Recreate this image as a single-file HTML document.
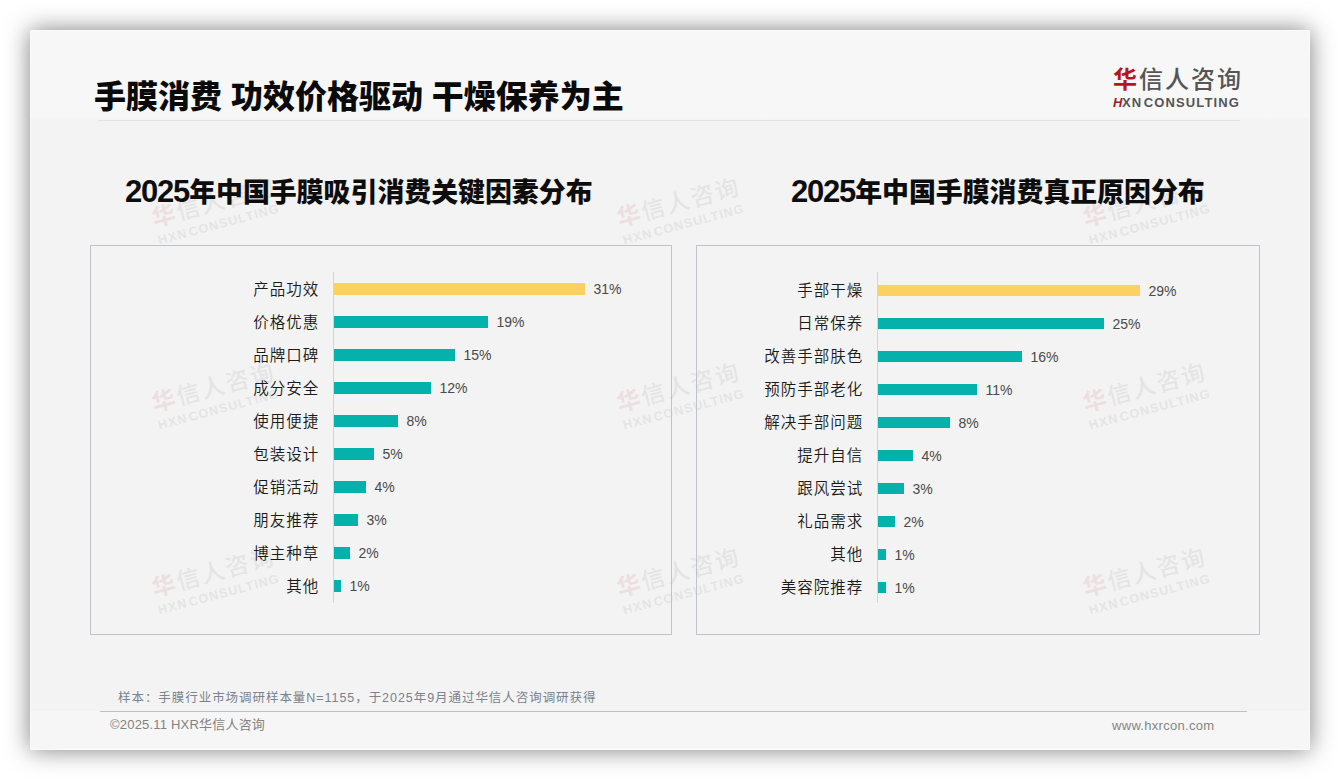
<!DOCTYPE html>
<html lang="zh-CN">
<head>
<meta charset="utf-8">
<title>手膜消费 功效价格驱动 干燥保养为主</title>
<style>
*{margin:0;padding:0;box-sizing:border-box;}
html,body{width:1340px;height:780px;background:#fff;overflow:hidden;}
body{position:relative;font-family:"Liberation Sans","Noto Sans CJK SC",sans-serif;}
.slide{position:absolute;left:30px;top:30px;width:1280px;height:720px;background:#f3f3f3;box-shadow:0 0 24px rgba(0,0,0,0.5);border-radius:2px;overflow:hidden;}
.hdr{position:absolute;left:0;top:0;width:1280px;height:90px;background:linear-gradient(#f7f7f7 0,#f7f7f7 83px,#f8f8f8 86px,#f3f3f3 90px);}
.ftr{position:absolute;left:0;top:681px;width:1280px;height:39px;background:#f6f6f6;}
.abs{position:absolute;white-space:nowrap;}
.edge{position:absolute;left:0;top:0;width:1280px;height:720px;border:1px solid rgba(255,255,255,0.55);border-radius:2px;}
.title{left:64px;top:46.5px;font-size:32px;font-weight:900;color:#0a0a0a;line-height:40px;}
.hline{left:68px;top:90px;width:1142px;height:1px;background:#e2e2e2;}
.ctitle{font-size:26.9px;font-weight:900;color:#0d0d0d;line-height:34px;}
.ctitle .d{font-size:31px;line-height:0;font-weight:bold;letter-spacing:-1.2px;}
.box{position:absolute;border:1px solid #bfc3c9;}
.lbl{position:absolute;font-size:15.5px;font-weight:350;color:#1a1a1a;line-height:20px;text-align:right;white-space:nowrap;letter-spacing:1.0px;margin-right:-0.3px;margin-top:1px;}
.bar{position:absolute;background:#05b1ab;}
.bar.y{background:#fdd062;}
.val{position:absolute;font-size:14px;color:#4a4a4a;letter-spacing:0px;line-height:18px;white-space:nowrap;}
.axis{position:absolute;width:1px;background:#d6d6d6;}
.wm{position:absolute;transform:rotate(-15deg) scale(0.975);transform-origin:0 0;opacity:0.085;}
.logo-cn{font-size:24px;line-height:28px;color:#555;letter-spacing:2px;font-weight:500;}
.logo-cn b{color:#b8141d;}
.logo-en{font-size:13px;line-height:14px;font-weight:bold;color:#555;letter-spacing:1.1px;word-spacing:-3px;margin-top:2px;}
.sample{left:88px;top:657px;font-size:12.5px;color:#7a828d;letter-spacing:0.95px;}
.fline{left:70px;top:681px;width:1147px;height:1px;background:#bac1c8;}
.copy{left:80px;top:684px;font-size:13px;color:#828282;letter-spacing:0.2px;}
.url{left:1082px;top:688px;font-size:13px;color:#858585;letter-spacing:0.3px;}
</style>
</head>
<body>
<div class="slide">
  <div class="hdr"></div>
  <div class="ftr"></div>
  <div class="wm" style="left:118.5px;top:176.0px;"><div class="logo-cn"><b>华</b>信人咨询</div><div class="logo-en">HXN CONSULTING</div></div>
  <div class="wm" style="left:584.0px;top:176.0px;"><div class="logo-cn"><b>华</b>信人咨询</div><div class="logo-en">HXN CONSULTING</div></div>
  <div class="wm" style="left:1049.5px;top:176.0px;"><div class="logo-cn"><b>华</b>信人咨询</div><div class="logo-en">HXN CONSULTING</div></div>
  <div class="wm" style="left:118.5px;top:361.0px;"><div class="logo-cn"><b>华</b>信人咨询</div><div class="logo-en">HXN CONSULTING</div></div>
  <div class="wm" style="left:584.0px;top:361.0px;"><div class="logo-cn"><b>华</b>信人咨询</div><div class="logo-en">HXN CONSULTING</div></div>
  <div class="wm" style="left:1049.5px;top:361.0px;"><div class="logo-cn"><b>华</b>信人咨询</div><div class="logo-en">HXN CONSULTING</div></div>
  <div class="wm" style="left:118.5px;top:546.0px;"><div class="logo-cn"><b>华</b>信人咨询</div><div class="logo-en">HXN CONSULTING</div></div>
  <div class="wm" style="left:584.0px;top:546.0px;"><div class="logo-cn"><b>华</b>信人咨询</div><div class="logo-en">HXN CONSULTING</div></div>
  <div class="wm" style="left:1049.5px;top:546.0px;"><div class="logo-cn"><b>华</b>信人咨询</div><div class="logo-en">HXN CONSULTING</div></div>
  <div class="abs title">手膜消费 功效价格驱动 干燥保养为主</div>
  <div class="abs hline"></div>
  <div class="abs" style="left:1083px;top:36px;">
    <div class="logo-cn"><b>华</b>信人咨询</div>
    <div class="logo-en"><span style="color:#a31b28;font-style:italic;letter-spacing:-0.5px">H</span>XN CONSULTING</div>
  </div>
  <div class="abs ctitle" style="left:95px;top:146px;"><span class="d">2025</span>年中国手膜吸引消费关键因素分布</div>
  <div class="abs ctitle" style="left:761px;top:146px;"><span class="d">2025</span>年中国手膜消费真正原因分布</div>
  <div class="box" style="left:60px;top:215px;width:582px;height:390px;"></div>
  <div class="box" style="left:666px;top:215px;width:564px;height:390px;"></div>
  <div class="axis" style="left:303px;top:242px;height:331px"></div>
  <div class="bar y" style="left:304px;top:253px;width:251px;height:12px"></div>
  <div class="lbl" style="right:991px;top:249px">产品功效</div>
  <div class="val" style="left:563.5px;top:250px">31%</div>
  <div class="bar" style="left:304px;top:286px;width:154px;height:12px"></div>
  <div class="lbl" style="right:991px;top:282px">价格优惠</div>
  <div class="val" style="left:466.5px;top:283px">19%</div>
  <div class="bar" style="left:304px;top:319px;width:121px;height:12px"></div>
  <div class="lbl" style="right:991px;top:315px">品牌口碑</div>
  <div class="val" style="left:433.5px;top:316px">15%</div>
  <div class="bar" style="left:304px;top:352px;width:97px;height:12px"></div>
  <div class="lbl" style="right:991px;top:348px">成分安全</div>
  <div class="val" style="left:409.5px;top:349px">12%</div>
  <div class="bar" style="left:304px;top:385px;width:64px;height:12px"></div>
  <div class="lbl" style="right:991px;top:381px">使用便捷</div>
  <div class="val" style="left:376.5px;top:382px">8%</div>
  <div class="bar" style="left:304px;top:418px;width:40px;height:12px"></div>
  <div class="lbl" style="right:991px;top:414px">包装设计</div>
  <div class="val" style="left:352.5px;top:415px">5%</div>
  <div class="bar" style="left:304px;top:451px;width:32px;height:12px"></div>
  <div class="lbl" style="right:991px;top:447px">促销活动</div>
  <div class="val" style="left:344.5px;top:448px">4%</div>
  <div class="bar" style="left:304px;top:484px;width:24px;height:12px"></div>
  <div class="lbl" style="right:991px;top:480px">朋友推荐</div>
  <div class="val" style="left:336.5px;top:481px">3%</div>
  <div class="bar" style="left:304px;top:517px;width:16px;height:12px"></div>
  <div class="lbl" style="right:991px;top:513px">博主种草</div>
  <div class="val" style="left:328.5px;top:514px">2%</div>
  <div class="bar" style="left:304px;top:550px;width:7px;height:12px"></div>
  <div class="lbl" style="right:991px;top:546px">其他</div>
  <div class="val" style="left:319.5px;top:547px">1%</div>
  <div class="axis" style="left:847px;top:242px;height:331px"></div>
  <div class="bar y" style="left:848px;top:255px;width:262px;height:11px"></div>
  <div class="lbl" style="right:447px;top:250px">手部干燥</div>
  <div class="val" style="left:1118.5px;top:252px">29%</div>
  <div class="bar" style="left:848px;top:288px;width:226px;height:11px"></div>
  <div class="lbl" style="right:447px;top:283px">日常保养</div>
  <div class="val" style="left:1082.5px;top:285px">25%</div>
  <div class="bar" style="left:848px;top:321px;width:144px;height:11px"></div>
  <div class="lbl" style="right:447px;top:316px">改善手部肤色</div>
  <div class="val" style="left:1000.5px;top:318px">16%</div>
  <div class="bar" style="left:848px;top:354px;width:99px;height:11px"></div>
  <div class="lbl" style="right:447px;top:349px">预防手部老化</div>
  <div class="val" style="left:955.5px;top:351px">11%</div>
  <div class="bar" style="left:848px;top:387px;width:72px;height:11px"></div>
  <div class="lbl" style="right:447px;top:382px">解决手部问题</div>
  <div class="val" style="left:928.5px;top:384px">8%</div>
  <div class="bar" style="left:848px;top:420px;width:35px;height:11px"></div>
  <div class="lbl" style="right:447px;top:415px">提升自信</div>
  <div class="val" style="left:891.5px;top:417px">4%</div>
  <div class="bar" style="left:848px;top:453px;width:26px;height:11px"></div>
  <div class="lbl" style="right:447px;top:448px">跟风尝试</div>
  <div class="val" style="left:882.5px;top:450px">3%</div>
  <div class="bar" style="left:848px;top:486px;width:17px;height:11px"></div>
  <div class="lbl" style="right:447px;top:481px">礼品需求</div>
  <div class="val" style="left:873.5px;top:483px">2%</div>
  <div class="bar" style="left:848px;top:519px;width:8px;height:11px"></div>
  <div class="lbl" style="right:447px;top:514px">其他</div>
  <div class="val" style="left:864.5px;top:516px">1%</div>
  <div class="bar" style="left:848px;top:552px;width:8px;height:11px"></div>
  <div class="lbl" style="right:447px;top:547px">美容院推荐</div>
  <div class="val" style="left:864.5px;top:549px">1%</div>

  <div class="abs sample">样本：手膜行业市场调研样本量N=1155，于2025年9月通过华信人咨询调研获得</div>
  <div class="abs fline"></div>
  <div class="abs copy">©2025.11 HXR华信人咨询</div>
  <div class="abs url">www.hxrcon.com</div>
  <div class="edge"></div>
</div>
</body>
</html>
